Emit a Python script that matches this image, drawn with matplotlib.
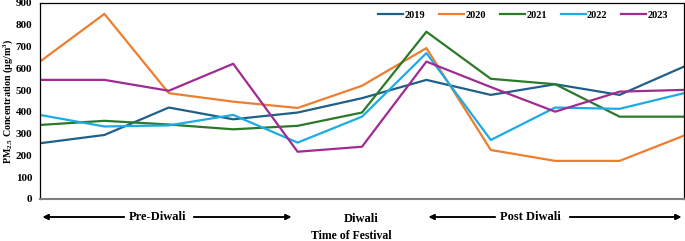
import matplotlib.pyplot as plt

plt.rcParams['font.family'] = 'Liberation Serif'
plt.rcParams['font.weight'] = 'bold'
plt.rcParams['mathtext.fontset'] = 'custom'
plt.rcParams['mathtext.rm'] = 'Liberation Serif:bold'
plt.rcParams['mathtext.it'] = 'Liberation Serif:bold'
plt.rcParams['mathtext.bf'] = 'Liberation Serif:bold'

# festival days (11 observation points)
days = list(range(11))
years = ['2019', '2020', '2021', '2022', '2023']
pm_2019 = [256, 294, 420, 366, 397, 463, 547, 478, 527, 478, 608]
pm_2020 = [631, 850, 486, 447, 418, 520, 693, 225, 175, 175, 291]
pm_2021 = [340, 359, 342, 320, 336, 397, 768, 552, 527, 378, 378]
pm_2022 = [386, 333, 338, 386, 259, 378, 670, 271, 420, 414, 486]
pm_2023 = [547, 547, 497, 621, 217, 240, 631, 514, 401, 493, 501]
colors = ['#1f6088', '#ed7d31', '#2a7a2a', '#1cabe2', '#a02b93']

fig = plt.figure(figsize=(6.85, 2.41), dpi=100)
ax = fig.add_axes([40/685, 42/241, 644/685, 196/241])

for yr, vals, c in zip(years, [pm_2019, pm_2020, pm_2021, pm_2022, pm_2023], colors):
    ax.plot(days, vals, color=c, lw=1.6, label=yr)

ax.set_xlim(0, 10)
ax.set_ylim(0, 900)
ax.set_yticks(range(0, 901, 100))
ax.set_xticks([])
ax.tick_params(axis='y', length=0, labelsize=8, pad=5.5)
for lab in ax.get_yticklabels():
    lab.set_fontweight('bold')
ax.spines['bottom'].set_color('#7f7f7f')
ax.spines['bottom'].set_linewidth(1.5)
for s in ['left', 'top', 'right']:
    ax.spines[s].set_linewidth(0.9)

ax.set_ylabel('PM$_{2.5}$ Concentration (μg/m$^3$)', fontsize=7.2, fontweight='bold')
ax.yaxis.set_label_coords(-0.039, 0.5)

ax.legend(loc='upper right', ncol=5, frameon=False, fontsize=7.5, handlelength=2.4,
          columnspacing=1.3, handletextpad=0.15, bbox_to_anchor=(0.99, 1.01))

# period arrows under the axis
def fx(px):
    return px / 685

yy = 1 - 217/241
arrow = dict(arrowstyle='-|>', color='black', lw=1.1, mutation_scale=8)
fig.text(fx(158), yy, 'Pre-Diwali', ha='center', va='center', fontsize=9)
fig.add_artist(plt.annotate('', xy=(fx(40), yy), xytext=(fx(127), yy), xycoords='figure fraction', arrowprops=arrow))
fig.add_artist(plt.annotate('', xy=(fx(294), yy), xytext=(fx(191), yy), xycoords='figure fraction', arrowprops=arrow))
fig.text(fx(361), 1 - 219/241, 'Diwali', ha='center', va='center', fontsize=9)
fig.text(fx(530), yy, 'Post Diwali', ha='center', va='center', fontsize=9)
fig.add_artist(plt.annotate('', xy=(fx(426), yy), xytext=(fx(498), yy), xycoords='figure fraction', arrowprops=arrow))
fig.add_artist(plt.annotate('', xy=(fx(684), yy), xytext=(fx(567), yy), xycoords='figure fraction', arrowprops=arrow))
fig.text(fx(351), 1 - 236/241, 'Time of Festival', ha='center', va='center', fontsize=8.5)

fig.savefig('out.png', dpi=100)
